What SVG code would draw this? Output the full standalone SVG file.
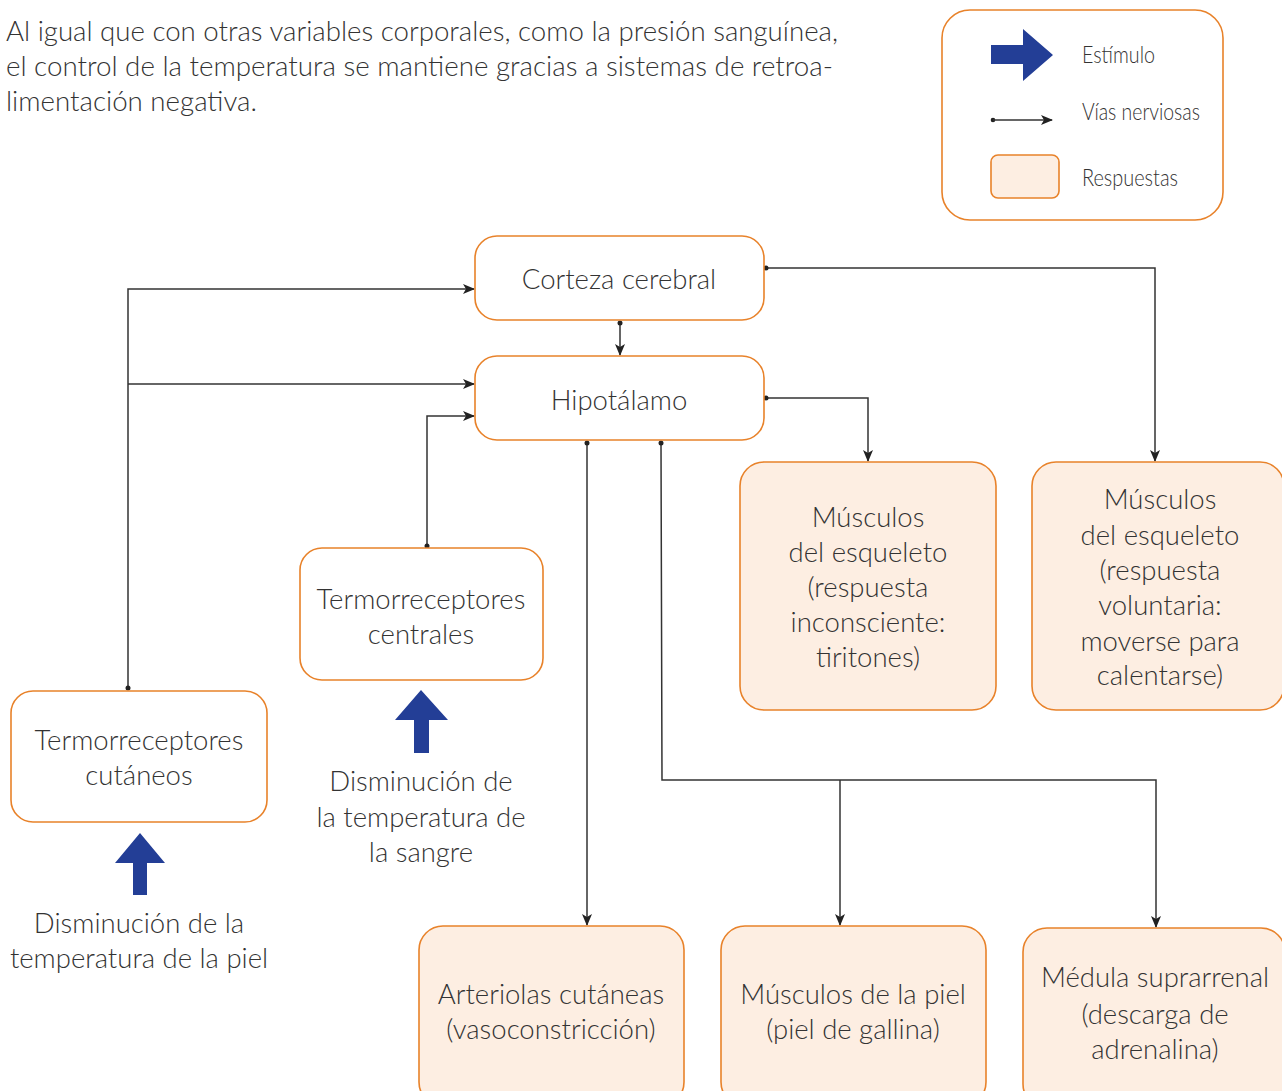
<svg xmlns="http://www.w3.org/2000/svg" width="1282" height="1091" viewBox="0 0 1282 1091">
<style>
.box{fill:#fff;stroke:#E8822A;stroke-width:1.6}
.resp{fill:#FDEEE2;stroke:#E8822A;stroke-width:1.6}
.t{font-family:Lato,"Open Sans","Liberation Sans",sans-serif;font-weight:300;font-size:27.5px;fill:#333;text-anchor:middle}
.p{font-family:Lato,"Liberation Sans",sans-serif;font-weight:300;font-size:27px;fill:#333}
.lg{font-family:Lato,"Liberation Sans",sans-serif;font-weight:300;font-size:24px;fill:#333}
.c{fill:none;stroke:#333;stroke-width:1.5}
.blue{fill:#233E96}
.dot{fill:#222}
</style>
<defs>
<marker id="ah" viewBox="0 0 12 10" refX="11" refY="5" markerWidth="12" markerHeight="10" markerUnits="userSpaceOnUse" orient="auto">
<path d="M0,0 L12,5 L0,10 L3,5 z" fill="#222"/>
</marker>
</defs>

<g id="intro">
<text class="p" x="6" y="41" textLength="832" lengthAdjust="spacingAndGlyphs">Al igual que con otras variables corporales, como la presión sanguínea,</text>
<text class="p" x="6" y="76" textLength="827" lengthAdjust="spacingAndGlyphs">el control de la temperatura se mantiene gracias a sistemas de retroa-</text>
<text class="p" x="6" y="111" textLength="251" lengthAdjust="spacingAndGlyphs">limentación negativa.</text>
</g>

<g id="legend">
<rect class="box" x="942" y="10" width="281" height="210" rx="28"/>
<path class="blue" d="M991,45 L1023,45 L1023,29 L1053,55 L1023,81 L1023,64 L991,64 z"/>
<text class="lg" x="1082" y="63" textLength="73" lengthAdjust="spacingAndGlyphs">Estímulo</text>
<circle class="dot" cx="993" cy="120" r="2.3"/>
<line class="c" x1="993" y1="120" x2="1052" y2="120" marker-end="url(#ah)"/>
<text class="lg" x="1082" y="120" textLength="118" lengthAdjust="spacingAndGlyphs">Vías nerviosas</text>
<rect class="resp" x="991" y="155" width="68" height="43" rx="7"/>
<text class="lg" x="1082" y="186" textLength="96" lengthAdjust="spacingAndGlyphs">Respuestas</text>
</g>

<g id="connectors">
<path class="c" d="M766,268 H1155 V461" marker-end="url(#ah)"/>
<path class="c" d="M620,323 V355" marker-end="url(#ah)"/>
<path class="c" d="M766,398 H868 V461" marker-end="url(#ah)"/>
<path class="c" d="M587,443 V925" marker-end="url(#ah)"/>
<path class="c" d="M661,443 L662,780 H1156 V927" marker-end="url(#ah)"/>
<path class="c" d="M840,780 V925" marker-end="url(#ah)"/>
<path class="c" d="M128,688 V289 H474" marker-end="url(#ah)"/>
<path class="c" d="M128,384 H474" marker-end="url(#ah)"/>
<path class="c" d="M427,546 V416 H474" marker-end="url(#ah)"/>
<circle class="dot" cx="766" cy="268" r="2.5"/>
<circle class="dot" cx="620" cy="323" r="2.5"/>
<circle class="dot" cx="766" cy="398" r="2.5"/>
<circle class="dot" cx="587" cy="443" r="2.5"/>
<circle class="dot" cx="661" cy="443" r="2.5"/>
<circle class="dot" cx="128" cy="688" r="2.5"/>
<circle class="dot" cx="427" cy="546" r="2.5"/>
</g>

<g id="corteza">
<rect class="box" x="475" y="236" width="289" height="84" rx="22"/>
<text class="t" x="619" y="289">Corteza cerebral</text>
</g>

<g id="hipotalamo">
<rect class="box" x="475" y="356" width="289" height="84" rx="22"/>
<text class="t" x="619" y="410">Hipotálamo</text>
</g>

<g id="termo-centrales">
<rect class="box" x="300" y="548" width="243" height="132" rx="22"/>
<text class="t" x="421" y="609">Termorreceptores</text>
<text class="t" x="421" y="644">centrales</text>
</g>

<g id="termo-cutaneos">
<rect class="box" x="11" y="691" width="256" height="131" rx="22"/>
<text class="t" x="139" y="750">Termorreceptores</text>
<text class="t" x="139" y="785">cutáneos</text>
</g>

<g id="estimulo-sangre">
<path class="blue" d="M421,690 L448,720 L429,720 L429,753 L414,753 L414,720 L395,720 z"/>
<text class="t" x="421" y="791">Disminución de</text>
<text class="t" x="421" y="827">la temperatura de</text>
<text class="t" x="421" y="862">la sangre</text>
</g>

<g id="estimulo-piel">
<path class="blue" d="M140,833 L165,863 L147,863 L147,895 L133,895 L133,863 L115,863 z"/>
<text class="t" x="139" y="933">Disminución de la</text>
<text class="t" x="139" y="968">temperatura de la piel</text>
</g>

<g id="musculos-inconsciente">
<rect class="resp" x="740" y="462" width="256" height="248" rx="24"/>
<text class="t" x="868" y="527">Músculos</text>
<text class="t" x="868" y="562">del esqueleto</text>
<text class="t" x="868" y="597">(respuesta</text>
<text class="t" x="868" y="632">inconsciente:</text>
<text class="t" x="868" y="667">tiritones)</text>
</g>

<g id="musculos-voluntaria">
<rect class="resp" x="1032" y="462" width="252" height="248" rx="24"/>
<text class="t" x="1160" y="509">Músculos</text>
<text class="t" x="1160" y="545">del esqueleto</text>
<text class="t" x="1160" y="580">(respuesta</text>
<text class="t" x="1160" y="615">voluntaria:</text>
<text class="t" x="1160" y="651">moverse para</text>
<text class="t" x="1160" y="685">calentarse)</text>
</g>

<g id="arteriolas">
<rect class="resp" x="419" y="926" width="265" height="180" rx="24"/>
<text class="t" x="551" y="1004">Arteriolas cutáneas</text>
<text class="t" x="551" y="1039">(vasoconstricción)</text>
</g>

<g id="musculos-piel">
<rect class="resp" x="721" y="926" width="265" height="180" rx="24"/>
<text class="t" x="853" y="1004">Músculos de la piel</text>
<text class="t" x="853" y="1039">(piel de gallina)</text>
</g>

<g id="medula">
<rect class="resp" x="1023" y="928" width="262" height="180" rx="24"/>
<text class="t" x="1155" y="987">Médula suprarrenal</text>
<text class="t" x="1155" y="1024">(descarga de</text>
<text class="t" x="1155" y="1059">adrenalina)</text>
</g>
</svg>
